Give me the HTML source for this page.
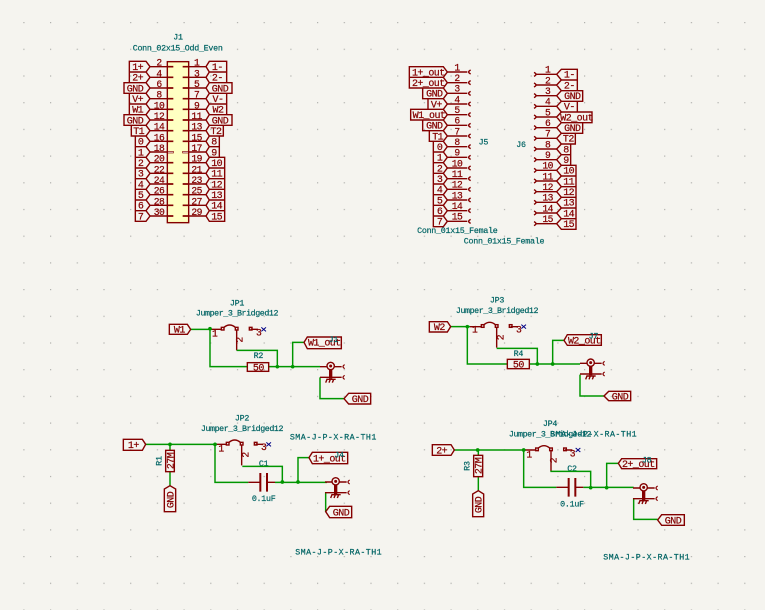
<!DOCTYPE html>
<html><head><meta charset="utf-8"><style>
html,body{margin:0;padding:0;background:#f5f4ef}
svg{display:block}
text{font-family:"Liberation Mono",monospace;text-anchor:middle}
.l text{fill:#840000;stroke:#840000;stroke-width:.7;font-size:30px;letter-spacing:-1.6px}
.f{fill:#006464;stroke:#006464;stroke-width:.6;font-size:25px;letter-spacing:-.8px}
.fj{letter-spacing:-1.3px}
.fs{letter-spacing:1.3px}
.lb{fill:none;stroke:#840000;stroke-width:4.2}
.w{fill:none;stroke:#009600;stroke-width:4.4}
.r{fill:none;stroke:#840000;stroke-width:4.2}
.j{fill:#009600}
.n text{fill:#840000;stroke:#840000;stroke-width:.7;font-size:29px;letter-spacing:-1.6px}
</style></head><body>
<svg width="765" height="610" viewBox="0 0 765 610" xmlns="http://www.w3.org/2000/svg">
<defs>
<pattern id="g" x="23.3" y="22" width="26.7" height="26.7" patternUnits="userSpaceOnUse"><rect width="1.2" height="1.2" fill="#b0b0ac"/></pattern>
<g id="jump">
<path class="r" d="M-38 2H-4M4 -4Q21 -18 38 -4M42 4V65M84 2H106"/>
<rect class="r" x="-4" y="-4" width="8" height="8"/><rect class="r" x="38" y="-4" width="8" height="8"/><rect class="r" x="80" y="-4" width="8" height="8"/>
<path d="M116 -4L130 8M116 8L130 -4" fill="none" stroke="#000084" stroke-width="3"/>
</g>
<g id="coax">
<circle class="r" cx="0" cy="0" r="11" stroke-width="5"/><circle cx="0" cy="0" r="4.5" fill="#840000"/>
<path class="r" d="M-32 2H-11M11 2H33M-32 34H33"/>
<path d="M0 11V38" stroke="#840000" stroke-width="10" fill="none"/>
<path class="r" d="M-13 40H15M-11 40L-15 50M-1 40L-5 50M9 40L5 50"/>
<path d="M42 -4Q32 2 42 8M42 28Q32 34 42 40" fill="none" stroke="#840000" stroke-width="3.6"/>
</g>
</defs>
<rect width="765" height="610" fill="#f5f4ef"/>
<rect width="765" height="610" fill="url(#g)"/>

<!-- J1 -->
<g transform="translate(110 30) scale(.33333)">
<text class="f" x="204" y="28">J1</text><text class="f" x="203" y="61">Conn_02x15_Odd_Even</text>
<rect x="172" y="95" width="64" height="483" fill="#ffffc2" stroke="#840000" stroke-width="4.2"/>
<path class="r" d="M120 110H172M120 142H172M120 174H172M120 206H172M120 238H172M120 270H172M120 302H172M120 334H172M120 398H172M120 430H172M120 462H172M120 494H172M120 526H172M120 558H172M120 366H172M236 110H288M236 142H288M236 174H288M236 206H288M236 238H288M236 270H288M236 302H288M236 334H288M236 366H288M236 398H288M236 430H288M236 462H288M236 494H288M236 526H288M236 558H288"/>
<path stroke="#840000" stroke-width="5" fill="none" d="M172 110H190M172 142H190M172 174H190M172 206H190M172 238H190M172 270H190M172 302H190M172 334H190M172 398H190M172 430H190M172 462H190M172 494H190M172 526H190M172 558H190M218 110H236M218 142H236M218 174H236M218 206H236M218 238H236M218 270H236M218 302H236M218 334H236M218 398H236M218 430H236M218 462H236M218 494H236M218 526H236M218 558H236"/>
<rect x="173" y="364" width="17" height="5" fill="#f5f4ef" stroke="#840000" stroke-width="2"/><rect x="218" y="364" width="17" height="5" fill="#f5f4ef" stroke="#840000" stroke-width="2"/>
<path class="lb" d="M58 94H108L120 110L108 126H58ZM58 126H108L120 142L108 158H58ZM42 158H108L120 174L108 190H42ZM58 190H108L120 206L108 222H58ZM58 222H108L120 238L108 254H58ZM42 254H108L120 270L108 286H42ZM64 286H108L120 302L108 318H64ZM76 318H108L120 334L108 350H76ZM76 350H108L120 366L108 382H76ZM76 382H108L120 398L108 414H76ZM76 414H108L120 430L108 446H76ZM76 446H108L120 462L108 478H76ZM76 478H108L120 494L108 510H76ZM76 510H108L120 526L108 542H76ZM76 542H108L120 558L108 574H76Z"/>
<path class="lb" d="M288 110L298 94H350V126H298ZM288 142L298 126H350V158H298ZM288 174L298 158H366V190H298ZM288 206L298 190H350V222H298ZM288 238L298 222H350V254H298ZM288 270L298 254H366V286H298ZM288 302L298 286H340V318H298ZM288 334L298 318H328V350H298ZM288 366L298 350H328V382H298ZM288 398L298 382H344V414H298ZM288 430L298 414H344V446H298ZM288 462L298 446H344V478H298ZM288 494L298 478H344V510H298ZM288 526L298 510H344V542H298ZM288 558L298 542H344V574H298Z"/>
<g class="l">
<text x="83" y="120">1+</text><text x="83" y="152">2+</text><text x="75" y="184">GND</text><text x="83" y="216">V+</text><text x="83" y="248">W1</text><text x="75" y="280">GND</text><text x="86" y="312">T1</text><text x="92" y="344">0</text><text x="92" y="376">1</text><text x="92" y="408">2</text><text x="92" y="440">3</text><text x="92" y="472">4</text><text x="92" y="504">5</text><text x="92" y="536">6</text><text x="92" y="568">7</text>
<text x="322" y="120">1-</text><text x="322" y="152">2-</text><text x="330" y="184">GND</text><text x="324" y="216">V-</text><text x="324" y="248">W2</text><text x="330" y="280">GND</text><text x="318" y="312">T2</text><text x="312" y="344">8</text><text x="312" y="376">9</text><text x="320" y="408">10</text><text x="320" y="440">11</text><text x="320" y="472">12</text><text x="320" y="504">13</text><text x="320" y="536">14</text><text x="320" y="568">15</text>
</g>
<g class="n">
<text x="147" y="107">2</text><text x="147" y="139">4</text><text x="147" y="171">6</text><text x="147" y="203">8</text><text x="147" y="235">10</text><text x="147" y="267">12</text><text x="147" y="299">14</text><text x="147" y="331">16</text><text x="147" y="363">18</text><text x="147" y="395">20</text><text x="147" y="427">22</text><text x="147" y="459">24</text><text x="147" y="491">26</text><text x="147" y="523">28</text><text x="147" y="555">30</text>
<text x="260" y="107">1</text><text x="260" y="139">3</text><text x="260" y="171">5</text><text x="260" y="203">7</text><text x="260" y="235">9</text><text x="260" y="267">11</text><text x="260" y="299">13</text><text x="260" y="331">15</text><text x="260" y="363">17</text><text x="260" y="395">19</text><text x="260" y="427">21</text><text x="260" y="459">23</text><text x="260" y="491">25</text><text x="260" y="523">27</text><text x="260" y="555">29</text>
</g>
</g>

<!-- J5 J6 -->
<g transform="translate(400 60) scale(.33333)">
<text class="f" x="250" y="254">J5</text><text class="f" x="363" y="261">J6</text>
<text class="f" x="172" y="519">Conn_01x15_Female</text><text class="f" x="312" y="550">Conn_01x15_Female</text>
<path class="r" d="M142 36H202M142 68H202M142 100H202M142 132H202M142 164H202M142 196H202M142 228H202M142 260H202M142 292H202M142 324H202M142 356H202M142 388H202M142 420H202M142 452H202M142 484H202"/>
<path class="r" d="M212 30Q200 36 212 42M212 62Q200 68 212 74M212 94Q200 100 212 106M212 126Q200 132 212 138M212 158Q200 164 212 170M212 190Q200 196 212 202M212 222Q200 228 212 234M212 254Q200 260 212 266M212 286Q200 292 212 298M212 318Q200 324 212 330M212 350Q200 356 212 362M212 382Q200 388 212 394M212 414Q200 420 212 426M212 446Q200 452 212 458M212 478Q200 484 212 490"/>
<path class="lb" d="M28 20H130L142 36L130 52H28ZM28 52H130L142 68L130 84H28ZM68 84H130L142 100L130 116H68ZM84 116H130L142 132L130 148H84ZM32 148H130L142 164L130 180H32ZM68 180H130L142 196L130 212H68ZM88 212H130L142 228L130 244H88ZM100 244H130L142 260L130 276H100ZM100 276H130L142 292L130 308H100ZM100 308H130L142 324L130 340H100ZM100 340H130L142 356L130 372H100ZM100 372H130L142 388L130 404H100ZM100 404H130L142 420L130 436H100ZM100 436H130L142 452L130 468H100ZM100 468H130L142 484L130 500H100Z"/>
<g class="l">
<text x="85" y="46">1+_out</text><text x="85" y="78">2+_out</text><text x="103" y="110">GND</text><text x="109" y="142">V+</text><text x="87" y="174">W1_out</text><text x="103" y="206">GND</text><text x="113" y="238">T1</text><text x="119" y="270">0</text><text x="119" y="302">1</text><text x="119" y="334">2</text><text x="119" y="366">3</text><text x="119" y="398">4</text><text x="119" y="430">5</text><text x="119" y="462">6</text><text x="119" y="494">7</text>
</g>
<g class="n">
<text x="171" y="31">1</text><text x="171" y="63">2</text><text x="171" y="95">3</text><text x="171" y="127">4</text><text x="171" y="159">5</text><text x="171" y="191">6</text><text x="171" y="223">7</text><text x="171" y="255">8</text><text x="171" y="287">9</text><text x="171" y="319">10</text><text x="171" y="351">11</text><text x="171" y="383">12</text><text x="171" y="415">13</text><text x="171" y="447">14</text><text x="171" y="479">15</text>
</g>
<path class="r" d="M408 43H470M408 75H470M408 107H470M408 139H470M408 171H470M408 203H470M408 235H470M408 267H470M408 299H470M408 331H470M408 363H470M408 395H470M408 427H470M408 459H470M408 491H470"/>
<path class="r" d="M402 37Q414 43 402 49M402 69Q414 75 402 81M402 101Q414 107 402 113M402 133Q414 139 402 145M402 165Q414 171 402 177M402 197Q414 203 402 209M402 229Q414 235 402 241M402 261Q414 267 402 273M402 293Q414 299 402 305M402 325Q414 331 402 337M402 357Q414 363 402 369M402 389Q414 395 402 401M402 421Q414 427 402 433M402 453Q414 459 402 465M402 485Q414 491 402 497"/>
<path class="lb" d="M470 43L484 28H532V60H484ZM470 75L484 60H532V92H484ZM470 107L484 92H548V124H484ZM470 139L484 124H532V156H484ZM470 171L484 156H576V188H484ZM470 203L484 188H548V220H484ZM470 235L484 220H526V252H484ZM470 267L484 252H512V284H484ZM470 299L484 284H512V316H484ZM470 331L484 316H528V348H484ZM470 363L484 348H528V380H484ZM470 395L484 380H528V412H484ZM470 427L484 412H528V444H484ZM470 459L484 444H528V476H484ZM470 491L484 476H528V508H484Z"/>
<g class="l">
<text x="508" y="53">1-</text><text x="508" y="85">2-</text><text x="517" y="117">GND</text><text x="508" y="149">V-</text><text x="530" y="181">W2_out</text><text x="517" y="213">GND</text><text x="505" y="245">T2</text><text x="498" y="277">8</text><text x="498" y="309">9</text><text x="506" y="341">10</text><text x="506" y="373">11</text><text x="506" y="405">12</text><text x="506" y="437">13</text><text x="506" y="469">14</text><text x="506" y="501">15</text>
</g>
<g class="n">
<text x="443" y="38">1</text><text x="443" y="70">2</text><text x="443" y="102">3</text><text x="443" y="134">4</text><text x="443" y="166">5</text><text x="443" y="198">6</text><text x="443" y="230">7</text><text x="443" y="262">8</text><text x="443" y="294">9</text><text x="443" y="326">10</text><text x="443" y="358">11</text><text x="443" y="390">12</text><text x="443" y="422">13</text><text x="443" y="454">14</text><text x="443" y="486">15</text>
</g>
</g>

<!-- JP1 -->
<g transform="translate(160 290) scale(.33333)">
<text class="f" x="231" y="46">JP1</text><text class="f fj" x="231" y="77">Jumper_3_Bridged12</text>
<text class="f" x="295" y="204">R2</text>
<use href="#jump" x="188" y="116"/>
<path class="w" d="M92 118H155M150 118V230H262M230 181H352V230M326 230H480M398 230V157H432M480 262V326H552"/>
<circle class="j" cx="150" cy="116" r="5.5"/><circle class="j" cx="352" cy="230" r="5.5"/><circle class="j" cx="398" cy="230" r="5.5"/>
<rect class="r" x="262" y="218" width="64" height="26"/>
<use href="#coax" x="512" y="228"/>
<path class="lb" d="M28 103H82L92 118L82 133H28ZM432 157L442 141H544V176H442ZM552 326L566 310H632V342H566Z"/>
<g class="l"><text x="58" y="128">W1</text><text x="295" y="241">50</text><text x="493" y="167">W1_out</text><text x="600" y="336">GND</text></g>
<g class="n"><text x="164" y="140">1</text><text x="296" y="136">3</text><text transform="translate(248 150) rotate(-90)">2</text></g>
<text class="f" x="520" y="156">J1</text>
</g>

<!-- JP3 -->
<g transform="translate(420 290) scale(.33333)">
<text class="f" x="231" y="38">JP3</text><text class="f fj" x="231" y="69">Jumper_3_Bridged12</text>
<text class="f" x="295" y="198">R4</text>
<use href="#jump" x="188" y="108"/>
<path class="w" d="M92 110H150M142 110V222H262M230 175H352V222M328 222H480M398 222V151H432M480 254V318H552"/>
<circle class="j" cx="142" cy="110" r="5.5"/><circle class="j" cx="352" cy="222" r="5.5"/><circle class="j" cx="398" cy="222" r="5.5"/>
<rect class="r" x="262" y="208" width="66" height="28"/>
<use href="#coax" x="512" y="218"/>
<path class="lb" d="M28 95H82L92 110L82 126H28ZM432 151L442 134H544V166H442ZM552 318L566 304H632V332H566Z"/>
<g class="l"><text x="58" y="120">W2</text><text x="295" y="233">50</text><text x="493" y="160">W2_out</text><text x="600" y="328">GND</text></g>
<g class="n"><text x="164" y="128">1</text><text x="296" y="128">3</text><text transform="translate(250 143) rotate(-90)">2</text></g>
<text class="f" x="520" y="146">J7</text>
</g>

<!-- JP2 -->
<g transform="translate(115 405) scale(.33333)">
<text class="f" x="381" y="46">JP2</text><text class="f fj" x="381" y="78">Jumper_3_Bridged12</text>
<text class="f fs" x="655" y="103">SMA-J-P-X-RA-TH1</text><text class="f fs" x="671" y="448">SMA-J-P-X-RA-TH1</text>
<text class="f" x="446" y="183">C1</text><text class="f" x="446" y="288">0.1uF</text>
<text class="f" transform="translate(140 168) rotate(-90)">R1</text>
<use href="#jump" x="338" y="116"/>
<path class="w" d="M92 118H305M165 118V136M165 200V242M300 118V232H400M382 184H502V232M480 232H636M549 232V158H582M632 262V320"/>
<circle class="j" cx="165" cy="118" r="5.5"/><circle class="j" cx="300" cy="118" r="5.5"/><circle class="j" cx="502" cy="231" r="5.5"/><circle class="j" cx="549" cy="231" r="5.5"/>
<rect class="r" x="152" y="136" width="26" height="64"/>
<path class="r" d="M400 232H436M456 232H480"/>
<path d="M436 204V260M456 204V260" stroke="#840000" stroke-width="6" fill="none"/>
<use href="#coax" x="662" y="229"/>
<path class="lb" d="M25 103H82L92 118L82 136H25ZM165 242L182 252V320H148V252ZM582 158L592 142H698V176H592ZM632 320L644 304H710V338H644Z"/>
<g class="l"><text x="55" y="129">1+</text><text x="643" y="169">1+_out</text><text x="678" y="331">GND</text>
<text transform="translate(175 285) rotate(-90)">GND</text><text transform="translate(175 168) rotate(-90)">27M</text></g>
<g class="n"><text x="318" y="140">1</text><text x="446" y="135">3</text><text transform="translate(401 150) rotate(-90)">2</text></g>
<text class="f" x="672" y="158">J4</text>
</g>

<!-- JP4 -->
<g transform="translate(425 410) scale(.33333)">
<text class="f" x="375" y="48">JP4</text><text class="f fj" x="375" y="80">Jumper_3_Bridged12</text>
<text class="f fs" x="506" y="80">SMA-J-P-X-RA-TH1</text><text class="f fs" x="665" y="449">SMA-J-P-X-RA-TH1</text>
<text class="f" x="441" y="183">C2</text><text class="f" x="441" y="290">0.1uF</text>
<text class="f" transform="translate(134 168) rotate(-90)">R3</text>
<use href="#jump" x="336" y="118"/>
<path class="w" d="M88 120H302M160 120V136M160 200V242M296 120V232H394M376 184H497V232M475 232H626M545 232V160H580M626 265V328H698"/>
<circle class="j" cx="158" cy="120" r="5.5"/><circle class="j" cx="296" cy="120" r="5.5"/><circle class="j" cx="497" cy="233" r="5.5"/><circle class="j" cx="545" cy="233" r="5.5"/>
<rect class="r" x="146" y="136" width="27" height="64"/>
<path class="r" d="M394 232H431M451 232H475"/>
<path d="M431 204V260M451 204V260" stroke="#840000" stroke-width="6" fill="none"/>
<use href="#coax" x="656" y="232"/>
<path class="lb" d="M22 104H78L88 120L78 136H22ZM160 242L176 252V320H143V252ZM580 160L590 146H695V176H590ZM698 330L710 314H778V346H710Z"/>
<g class="l"><text x="50" y="131">2+</text><text x="640" y="171">2+_out</text><text x="744" y="340">GND</text>
<text transform="translate(169 285) rotate(-90)">GND</text><text transform="translate(169 168) rotate(-90)">27M</text></g>
<g class="n"><text x="312" y="142">1</text><text x="442" y="139">3</text><text transform="translate(395 152) rotate(-90)">2</text></g>
<text class="f" x="665" y="158">J8</text>
</g>
</svg>
</body></html>
